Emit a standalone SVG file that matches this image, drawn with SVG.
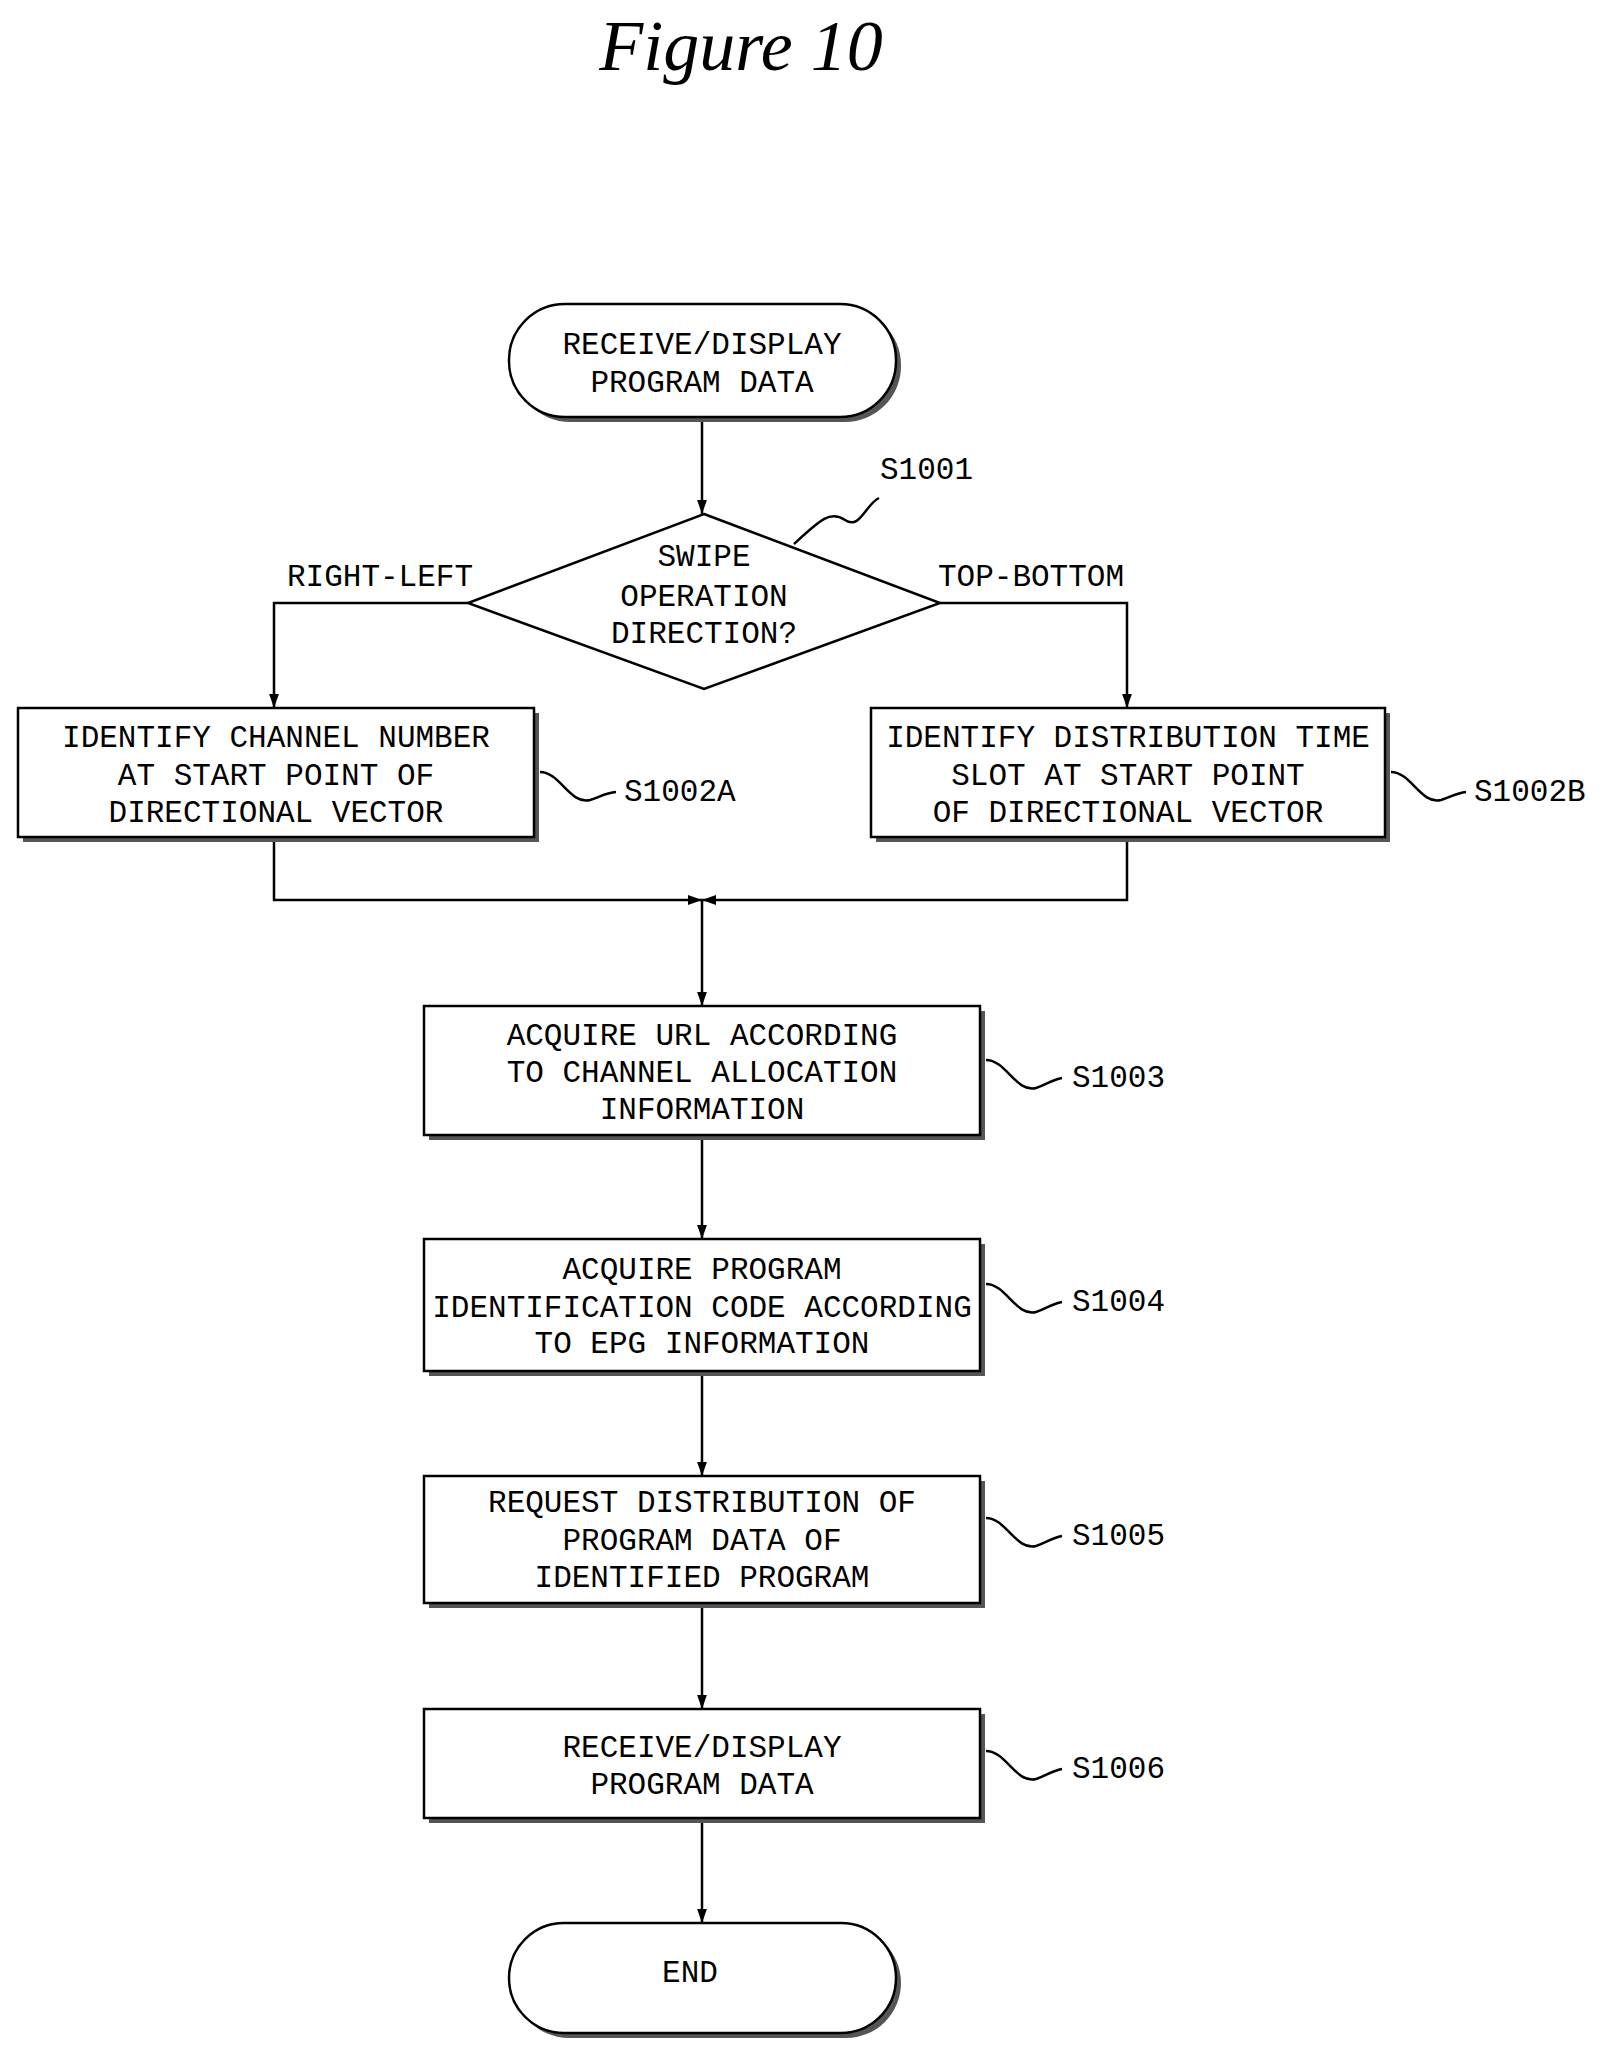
<svg xmlns="http://www.w3.org/2000/svg" width="1608" height="2054" viewBox="0 0 1608 2054">
<style>
.t{font-family:"Liberation Mono",monospace;font-size:31px;text-anchor:middle;dominant-baseline:central;fill:#000}
.l{font-family:"Liberation Mono",monospace;font-size:31px;dominant-baseline:central;fill:#000}
.b{fill:#fff;stroke:#000;stroke-width:2.5}
.s{fill:#555;stroke:none}
.c{fill:none;stroke:#000;stroke-width:2.5}
</style>
<defs><marker id="a" viewBox="0 0 10 10" refX="10" refY="5" markerWidth="14" markerHeight="18" markerUnits="userSpaceOnUse" orient="auto"><path d="M0,1.5L10,5L0,8.5z" fill="#000"/></marker></defs>
<rect width="1608" height="2054" fill="#fff"/>
<text x="741" y="46" style="font-family:'Liberation Serif',serif;font-style:italic;font-size:72px;text-anchor:middle;dominant-baseline:central">Figure 10</text>
<g id="connectors">
<path class="c" d="M702,417V514" marker-end="url(#a)"/>
<path class="c" d="M468,603H274V708" marker-end="url(#a)"/>
<path class="c" d="M940,603H1127V708" marker-end="url(#a)"/>
<path class="c" d="M274,837V900H702" marker-end="url(#a)"/>
<path class="c" d="M1127,837V900H702" marker-end="url(#a)"/>
<path class="c" d="M702,900V1006" marker-end="url(#a)"/>
<path class="c" d="M702,1135V1239" marker-end="url(#a)"/>
<path class="c" d="M702,1371V1476" marker-end="url(#a)"/>
<path class="c" d="M702,1603V1709" marker-end="url(#a)"/>
<path class="c" d="M702,1818V1923" marker-end="url(#a)"/>
</g>
<g id="start"><rect class="s" x="514" y="309" width="387" height="113" rx="56"/><rect class="b" x="509" y="304" width="387" height="113" rx="56"/><text class="t" x="702" y="345">RECEIVE/DISPLAY</text><text class="t" x="702" y="383">PROGRAM DATA</text></g>
<g id="S1001"><path class="b" d="M704,514L940,603L704,689L468,603Z"/><text class="t" x="704" y="557">SWIPE</text><text class="t" x="704" y="597">OPERATION</text><text class="t" x="704" y="634">DIRECTION?</text>
<path class="c" d="M794,544C820,520 830,510 845,520C860,530 865,505 879,498"/><text class="l" x="880" y="470">S1001</text>
<text class="t" x="380" y="577">RIGHT-LEFT</text><text class="t" x="1031" y="577">TOP-BOTTOM</text></g>
<g id="S1002A"><rect class="s" x="23" y="713" width="516" height="129"/><rect class="b" x="18" y="708" width="516" height="129"/><text class="t" x="276" y="738">IDENTIFY CHANNEL NUMBER</text><text class="t" x="276" y="776">AT START POINT OF</text><text class="t" x="276" y="813">DIRECTIONAL VECTOR</text>
<path class="c" d="M540,772C560,772 570,805 590,800C600,797 605,793 616,792"/><text class="l" x="624" y="792">S1002A</text></g>
<g id="S1002B"><rect class="s" x="876" y="713" width="514" height="129"/><rect class="b" x="871" y="708" width="514" height="129"/><text class="t" x="1128" y="738">IDENTIFY DISTRIBUTION TIME</text><text class="t" x="1128" y="776">SLOT AT START POINT</text><text class="t" x="1128" y="813">OF DIRECTIONAL VECTOR</text>
<path class="c" d="M1391,772C1411,772 1421,805 1441,800C1451,797 1456,793 1466,792"/><text class="l" x="1474" y="792">S1002B</text></g>
<g id="S1003"><rect class="s" x="429" y="1011" width="556" height="129"/><rect class="b" x="424" y="1006" width="556" height="129"/><text class="t" x="702" y="1036">ACQUIRE URL ACCORDING</text><text class="t" x="702" y="1073">TO CHANNEL ALLOCATION</text><text class="t" x="702" y="1110">INFORMATION</text>
<path class="c" d="M986,1060C1006,1060 1016,1093 1036,1088C1046,1085 1051,1080 1062,1078"/><text class="l" x="1072" y="1078">S1003</text></g>
<g id="S1004"><rect class="s" x="429" y="1244" width="556" height="132"/><rect class="b" x="424" y="1239" width="556" height="132"/><text class="t" x="702" y="1270">ACQUIRE PROGRAM</text><text class="t" x="702" y="1308">IDENTIFICATION CODE ACCORDING</text><text class="t" x="702" y="1344">TO EPG INFORMATION</text>
<path class="c" d="M986,1284C1006,1284 1016,1317 1036,1312C1046,1309 1051,1304 1062,1302"/><text class="l" x="1072" y="1302">S1004</text></g>
<g id="S1005"><rect class="s" x="429" y="1481" width="556" height="127"/><rect class="b" x="424" y="1476" width="556" height="127"/><text class="t" x="702" y="1503">REQUEST DISTRIBUTION OF</text><text class="t" x="702" y="1541">PROGRAM DATA OF</text><text class="t" x="702" y="1578">IDENTIFIED PROGRAM</text>
<path class="c" d="M986,1518C1006,1518 1016,1551 1036,1546C1046,1543 1051,1538 1062,1536"/><text class="l" x="1072" y="1536">S1005</text></g>
<g id="S1006"><rect class="s" x="429" y="1714" width="556" height="109"/><rect class="b" x="424" y="1709" width="556" height="109"/><text class="t" x="702" y="1748">RECEIVE/DISPLAY</text><text class="t" x="702" y="1785">PROGRAM DATA</text>
<path class="c" d="M986,1751C1006,1751 1016,1784 1036,1779C1046,1776 1051,1771 1062,1769"/><text class="l" x="1072" y="1769">S1006</text></g>
<g id="end"><rect class="s" x="514" y="1928" width="387" height="110" rx="55"/><rect class="b" x="509" y="1923" width="387" height="110" rx="55"/><text class="t" x="690" y="1973">END</text></g>
</svg>
